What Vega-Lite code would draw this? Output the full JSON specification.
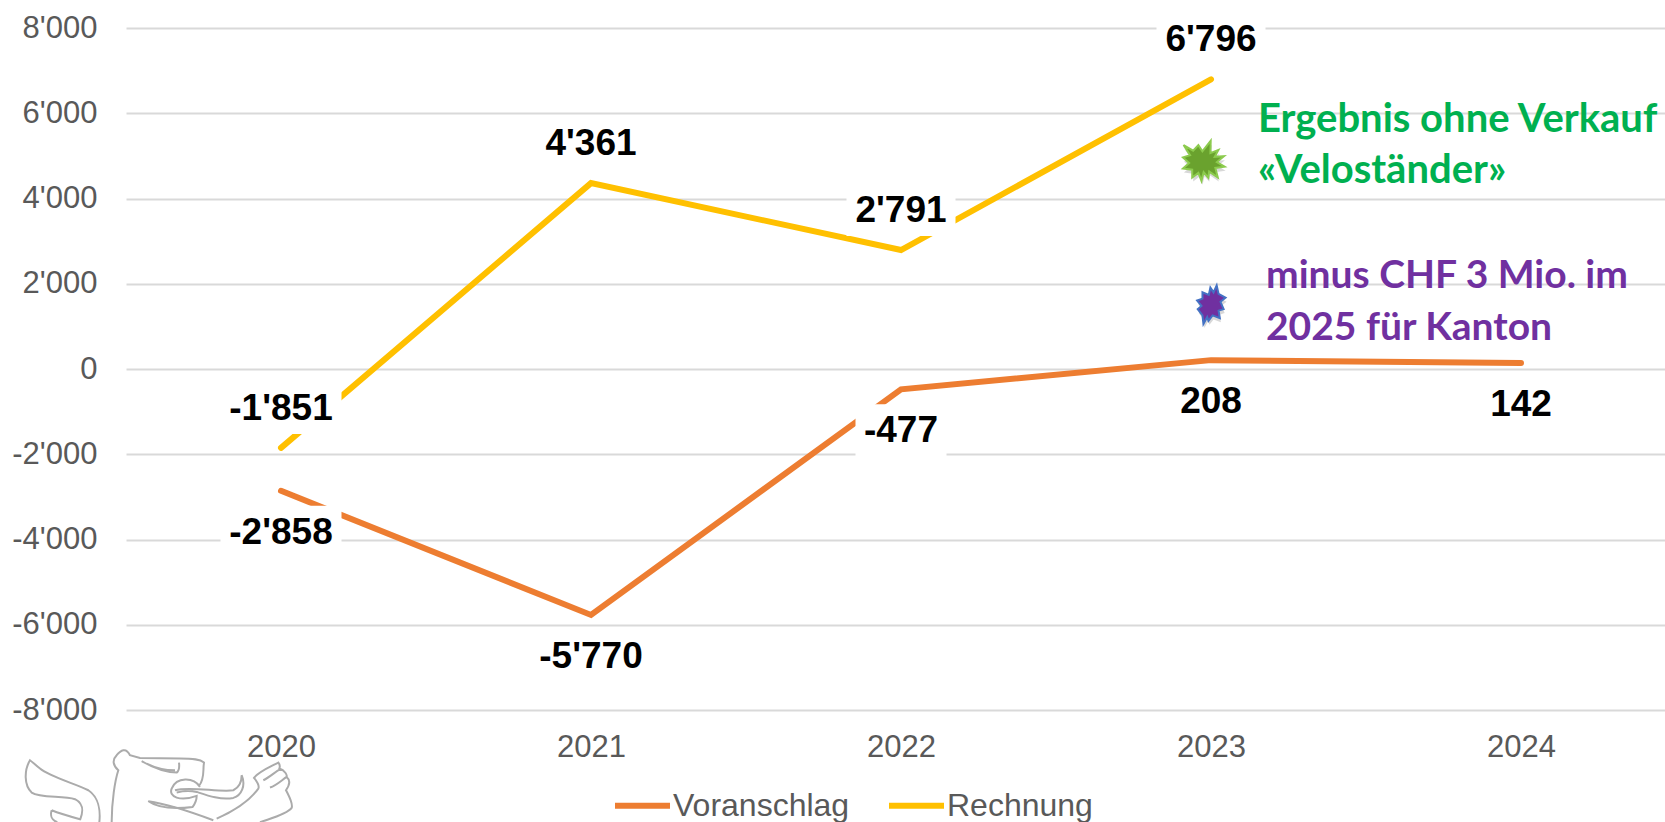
{
"$schema":"https://vega.github.io/schema/vega-lite/v6.json",
"width":1539,"height":682,
"autosize":{"type":"none"},
"padding":{"left":126,"top":28,"right":0,"bottom":112},
"background":"#ffffff",
"view":{"stroke":null},
"datasets":{
"main":[
{"year":2020,"series":"Voranschlag","value":-2858,"label":"-2'858"},
{"year":2021,"series":"Voranschlag","value":-5770,"label":"-5'770"},
{"year":2022,"series":"Voranschlag","value":-477,"label":"-477"},
{"year":2023,"series":"Voranschlag","value":208,"label":"208"},
{"year":2024,"series":"Voranschlag","value":142,"label":"142"},
{"year":2020,"series":"Rechnung","value":-1851,"label":"-1'851"},
{"year":2021,"series":"Rechnung","value":4361,"label":"4'361"},
{"year":2022,"series":"Rechnung","value":2791,"label":"2'791"},
{"year":2023,"series":"Rechnung","value":6796,"label":"6'796"}
],
"notes":[
{"year":2023,"value":5869,"group":"green","text":"Ergebnis ohne Verkauf"},
{"year":2023,"value":4671,"group":"green","text":"«Veloständer»"},
{"year":2023,"value":2207,"group":"purple","text":"minus CHF 3 Mio. im"},
{"year":2023,"value":986,"group":"purple","text":"2025 für Kanton"}
],
"stars":[
{"year":2023,"value":4906,"group":"green"},
{"year":2023,"value":1502,"group":"purple"}
],
"logo":[{"year":2020,"value":-8592}]
},
"encoding":{
"x":{"field":"year","type":"quantitative","title":null,
"scale":{"domain":[2019.5,2024.4645],"nice":false,"zero":false},
"axis":{"values":[2020,2021,2022,2023,2024],"format":"d","labelAngle":0,"domain":false,"ticks":false,"grid":false,"labelFont":"Liberation Sans","labelFontSize":31,"labelColor":"#595959","labelPadding":22}},
"y":{"field":"value","type":"quantitative","title":null,
"scale":{"domain":[-8000,8000],"nice":false,"zero":false},
"axis":{"values":[-8000,-6000,-4000,-2000,0,2000,4000,6000,8000],"domain":false,"ticks":false,"grid":true,"gridColor":"#D9D9D9","gridWidth":2,"labelFont":"Liberation Sans","labelFontSize":31,"labelColor":"#595959","labelPadding":29,
"labelExpr":"replace(replace(format(datum.value,','),',',\"'\"),'\u2212','-')"}}
},
"layer":[
{"data":{"name":"main"},"mark":{"type":"line","strokeWidth":6,"strokeCap":"round","strokeJoin":"miter"},
"encoding":{"color":{"field":"series","type":"nominal","scale":{"domain":["Voranschlag","Rechnung"],"range":["#ED7D31","#FFC000"]},
"legend":{"orient":"none","legendX":486,"legendY":747,"direction":"horizontal","title":null,"symbolType":"stroke","symbolSize":3025,"symbolStrokeWidth":6,"labelFont":"Liberation Sans","labelFontSize":32,"labelColor":"#595959","labelOffset":0,"labelLimit":400,"columnPadding":27}}}},
{"data":{"name":"main"},"transform":[{"filter":"length(datum.label)==6 && datum.series=='Rechnung'"}],"mark":{"type":"rect","fill":"#ffffff","width":121,"height":52},"encoding":{"yOffset":{"value":-40}}},
{"data":{"name":"main"},"transform":[{"filter":"length(datum.label)==6 && datum.series=='Voranschlag'"}],"mark":{"type":"rect","fill":"#ffffff","width":121,"height":52},"encoding":{"yOffset":{"value":41}}},
{"data":{"name":"main"},"transform":[{"filter":"length(datum.label)==5"}],"mark":{"type":"rect","fill":"#ffffff","width":109,"height":52},"encoding":{"yOffset":{"value":-40}}},
{"data":{"name":"main"},"transform":[{"filter":"length(datum.label)==4"}],"mark":{"type":"rect","fill":"#ffffff","width":91,"height":52},"encoding":{"yOffset":{"value":41}}},
{"data":{"name":"main"},"transform":[{"filter":"datum.series=='Rechnung'"}],"mark":{"type":"text","font":"Liberation Sans","fontWeight":"bold","fontSize":37,"color":"#000000","dy":-39},"encoding":{"text":{"field":"label","type":"nominal"}}},
{"data":{"name":"main"},"transform":[{"filter":"datum.series=='Voranschlag'"}],"mark":{"type":"text","font":"Liberation Sans","fontWeight":"bold","fontSize":37,"color":"#000000","dy":42},"encoding":{"text":{"field":"label","type":"nominal"}}},
{"data":{"name":"notes"},"transform":[{"filter":"datum.group=='green'"}],"mark":{"type":"text","font":"Lato","fontWeight":"bold","fontSize":40,"color":"#00B050","align":"left","dy":1},"encoding":{"text":{"field":"text","type":"nominal"},"xOffset":{"value":47}}},
{"data":{"name":"notes"},"transform":[{"filter":"datum.group=='purple'"}],"mark":{"type":"text","font":"Lato","fontWeight":"bold","fontSize":39,"color":"#7030A0","align":"left","dy":1},"encoding":{"text":{"field":"text","type":"nominal"},"xOffset":{"value":55}}},
{"data":{"name":"stars"},"transform":[{"filter":"datum.group=='green'"}],"mark":{"type":"point","filled":true,"fill":"#7f7f7f","opacity":0.3,"strokeWidth":0,"size":0.38,"shape":"M-63,-48L-32,-30L-15,-48L-2,-28L25,-62L24,-22L50,-32L38,-10L68,-12L45,7L70,22L40,26L48,57L20,38L17,58L2,40L-5,68L-15,42L-35,57L-35,32L-65,28L-45,10L-65,-8L-42,-15Z"},"encoding":{"xOffset":{"value":-7},"yOffset":{"value":4}}},
{"data":{"name":"stars"},"transform":[{"filter":"datum.group=='green'"}],"mark":{"type":"point","filled":true,"fill":"#6AA22E","stroke":"#8CCB4E","strokeWidth":2,"opacity":1,"size":0.38,"shape":"M-63,-48L-32,-30L-15,-48L-2,-28L25,-62L24,-22L50,-32L38,-10L68,-12L45,7L70,22L40,26L48,57L20,38L17,58L2,40L-5,68L-15,42L-35,57L-35,32L-65,28L-45,10L-65,-8L-42,-15Z"},"encoding":{"xOffset":{"value":-8}}},
{"data":{"name":"stars"},"transform":[{"filter":"datum.group=='purple'"}],"mark":{"type":"point","filled":true,"fill":"#7f7f7f","opacity":0.3,"strokeWidth":0,"size":0.4,"shape":"M18,-62L24,-35L46,-23L30,-10L40,13L24,18L28,42L5,33L-8,50L-12,38L-24,60L-27,33L-42,13L-30,3L-44,-14L-27,-20L-27,-40L-7,-32L-2,-55L8,-40Z"},"encoding":{"xOffset":{"value":1},"yOffset":{"value":4}}},
{"data":{"name":"stars"},"transform":[{"filter":"datum.group=='purple'"}],"mark":{"type":"point","filled":true,"fill":"#7030A0","stroke":"#4472C4","strokeWidth":2,"opacity":1,"size":0.4,"shape":"M18,-62L24,-35L46,-23L30,-10L40,13L24,18L28,42L5,33L-8,50L-12,38L-24,60L-27,33L-42,13L-30,3L-44,-14L-27,-20L-27,-40L-7,-32L-2,-55L8,-40Z"}},
{"data":{"name":"logo"},"mark":{"type":"point","filled":false,"stroke":"#ABABAB","strokeWidth":2,"opacity":1,"size":0.4444,"shape":"M298,261C302,225 295,185 265,165C225,145 150,125 120,100C105,88 95,78 90,75C72,105 72,150 95,172C120,190 190,180 225,192C250,205 252,225 240,255M155,225C150,240 155,255 172,261M155,225C180,235 215,245 240,252M335,261C335,200 345,135 355,105C340,92 335,75 350,60C362,45 378,35 390,60L420,68L540,70C580,70 600,72 612,82C608,105 615,130 597,152M425,78C455,95 490,112 530,112C540,105 538,92 537,82M440,85C470,100 500,105 525,105M600,155C580,125 530,125 515,160C505,185 540,200 590,182C590,195 585,205 578,215C540,220 480,222 445,198C495,205 560,225 640,255M525,165C570,152 660,172 700,165C720,155 725,135 725,120C738,150 725,180 700,188C660,195 620,180 590,170C565,165 545,168 530,172M650,250C700,228 750,195 775,160C780,150 770,138 762,128C775,110 810,95 835,82C842,90 840,95 838,100C855,105 862,120 860,125C872,135 870,148 858,165C868,185 880,205 875,218C860,238 810,250 780,261M790,135C810,125 825,110 843,100M810,157C830,150 845,135 860,125"},"encoding":{"xOffset":{"value":-281}}}
]
}
